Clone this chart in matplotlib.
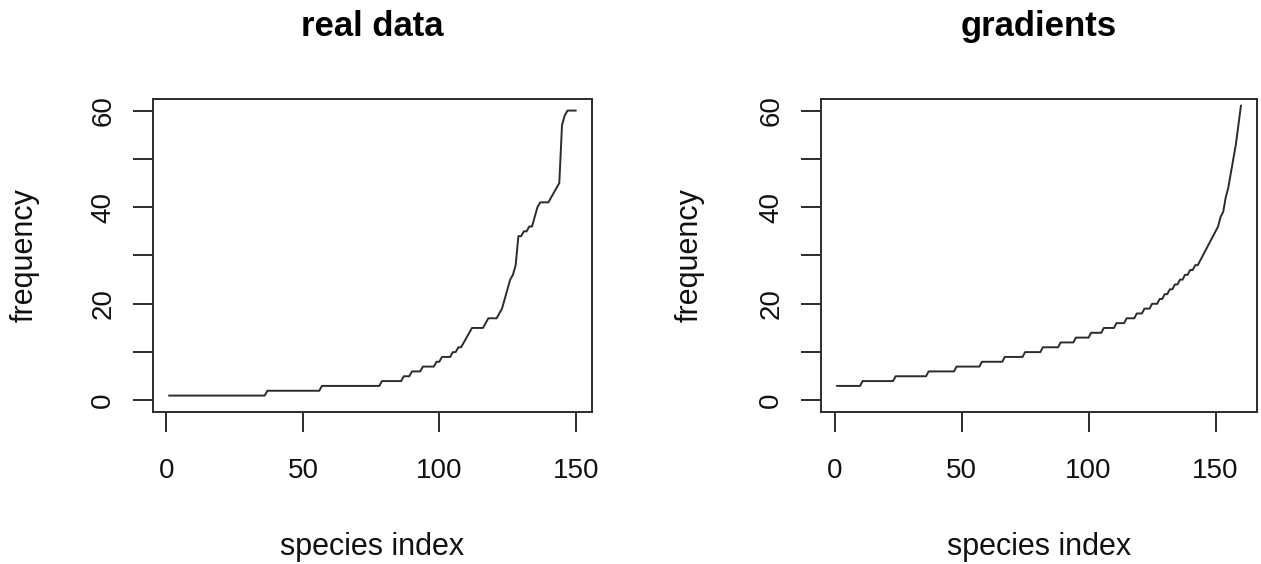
import matplotlib.pyplot as plt

plt.rcParams['font.family'] = ['Liberation Sans', 'DejaVu Sans']

# sorted species frequencies
real_freq = [
    1, 1, 1, 1, 1, 1, 1, 1, 1, 1, 1, 1, 1, 1, 1, 1, 1, 1, 1, 1,
    1, 1, 1, 1, 1, 1, 1, 1, 1, 1, 1, 1, 1, 1, 1, 1,
    2, 2, 2, 2, 2, 2, 2, 2, 2, 2, 2, 2, 2, 2, 2, 2, 2, 2, 2, 2,
    3, 3, 3, 3, 3, 3, 3, 3, 3, 3, 3, 3, 3, 3, 3, 3, 3, 3, 3, 3, 3, 3,
    4, 4, 4, 4, 4, 4, 4, 4,
    5, 5, 5, 6, 6, 6, 6, 7, 7, 7, 7, 7, 8, 8, 9, 9, 9, 9, 10, 10, 11, 11,
    12, 13, 14, 15, 15, 15, 15, 15, 16, 17, 17, 17, 17,
    18, 19, 21, 23, 25, 26, 28,
    34, 34, 35, 35, 36, 36,
    38, 40, 41, 41, 41, 41, 42, 43, 44, 45, 57, 59, 60, 60, 60, 60,
]

gradient_freq = [
    3, 3, 3, 3, 3, 3, 3, 3, 3, 3,
    4, 4, 4, 4, 4, 4, 4, 4, 4, 4, 4, 4, 4,
    5, 5, 5, 5, 5, 5, 5, 5, 5, 5, 5, 5, 5,
    6, 6, 6, 6, 6, 6, 6, 6, 6, 6, 6,
    7, 7, 7, 7, 7, 7, 7, 7, 7, 7,
    8, 8, 8, 8, 8, 8, 8, 8, 8,
    9, 9, 9, 9, 9, 9, 9, 9,
    10, 10, 10, 10, 10, 10, 10,
    11, 11, 11, 11, 11, 11, 11,
    12, 12, 12, 12, 12, 12,
    13, 13, 13, 13, 13, 13,
    14, 14, 14, 14, 14,
    15, 15, 15, 15, 15,
    16, 16, 16, 16,
    17, 17, 17, 17,
    18, 18, 18, 19, 19, 19, 20, 20, 20,
    21, 21, 22, 22, 23, 23, 24, 24, 25, 25,
    26, 26, 27, 27, 28, 28,
    29, 30, 31, 32, 33, 34, 35, 36, 38, 39, 42, 44, 47, 50, 53, 57, 61,
]

panel_titles = ['real data', 'gradients']
x_ticks = [0, 50, 100, 150]
y_ticks = [0, 10, 20, 30, 40, 50, 60]
y_tick_labels = ['0', '', '20', '', '40', '', '60']

LINE = '#2b2b2b'

fig = plt.figure(figsize=(12.61, 5.64), dpi=100)
ax_left = fig.add_axes([0.1213, 0.2695, 0.3481, 0.555])
ax_right = fig.add_axes([0.6511, 0.2695, 0.3458, 0.555])


def draw_panel(ax, values, title, ylabel_x):
    n = len(values)
    idx = list(range(1, n + 1))
    ax.plot(idx, values, color=LINE, lw=1.4)

    # R-style 4% padding around the data range
    ext = 0.04 * (n - 1)
    ax.set_xlim(1 - ext, n + ext)
    ax.set_ylim(-2.4, 62.4)

    ax.set_xticks(x_ticks)
    ax.set_yticks(y_ticks, labels=y_tick_labels)
    ax.tick_params(direction='out', length=14.4, width=1.4, color=LINE,
                   labelsize=20, labelcolor='#111111')
    ax.tick_params(axis='x', pad=18.5)
    ax.tick_params(axis='y', pad=12, labelrotation=90)
    for lbl in ax.get_yticklabels():
        lbl.set_va('center')

    for sp in ax.spines.values():
        sp.set_color(LINE)
        sp.set_linewidth(1.4)

    ax.set_title(title, fontsize=25, fontweight='bold', y=1.2013, pad=0)
    ax.set_xlabel('species index', fontsize=22, color='#111111')
    ax.xaxis.set_label_coords(0.5, -0.3824)
    ax.set_ylabel('frequency', fontsize=22, color='#111111')
    ax.yaxis.set_label_coords(ylabel_x, 0.5)


draw_panel(ax_left, real_freq, panel_titles[0], -0.2574)
draw_panel(ax_right, gradient_freq, panel_titles[1], -0.266)

fig.savefig('out.png', dpi=100)
